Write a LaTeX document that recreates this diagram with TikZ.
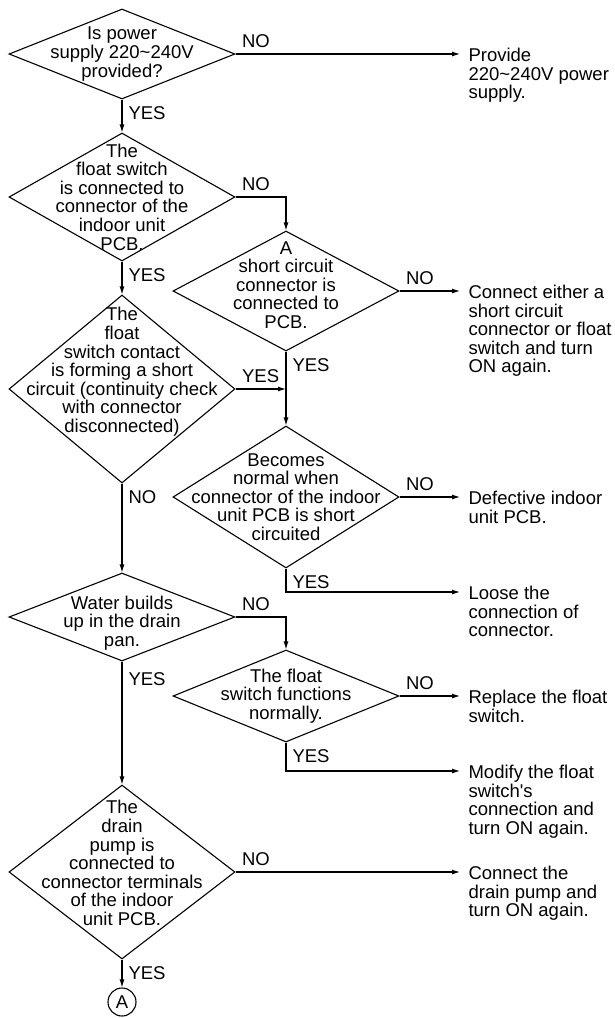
\documentclass[tikz,border=0pt]{standalone}
\usepackage{fontspec}
\setmainfont{Liberation Sans}
\usetikzlibrary{shapes.geometric,arrows.meta}

\begin{document}
\begin{tikzpicture}[x=1pt,y=-1pt,
   line width=1.1pt,
   font=\fontsize{18.5}{18.6}\selectfont,
   question/.style={draw,diamond,inner sep=0pt,minimum width=226pt},
   qtext/.style={align=center,inner sep=0pt},
   result/.style={align=left,anchor=north west,inner xsep=8pt,inner ysep=0pt,yshift=6.5pt},
   answer/.style={inner xsep=6pt,inner ysep=6pt,pos=0},
   flow/.style={-{Latex[length=8pt,width=5pt]}}]
\useasboundingbox (0,0) rectangle (615,1018);

\node[question,minimum height=90pt] (q1) at (122,54) {};
\node[qtext] (q1t) at (q1) {Is power\\supply 220\textasciitilde240V\\provided?};
\node[question,minimum height=128pt] (q2) at (122,197) {};
\node[qtext] (q2t) at (q2) {The\\float switch\\is connected to\\connector of the\\indoor unit\\PCB.};
\node[question,minimum height=120pt] (q3) at (286,291) {};
\node[qtext] (q3t) at ([yshift=6pt]q3) {A\\short circuit\\connector is\\connected to\\PCB.};
\node[question,minimum height=188pt] (q4) at (122,389) {};
\node[qtext] (q4t) at ([yshift=17pt]q4) {The\\float\\switch contact\\is forming a short\\circuit (continuity check\\with connector\\disconnected)};
\node[question,minimum height=142pt] (q5) at (286,497) {};
\node[qtext] (q5t) at (q5) {Becomes\\normal when\\connector of the indoor\\unit PCB is short\\circuited};
\node[question,minimum height=88pt] (q6) at (122,617) {};
\node[qtext] (q6t) at ([yshift=-6pt]q6) {Water builds\\up in the drain\\pan.};
\node[question,minimum height=92pt] (q7) at (286,696) {};
\node[qtext] (q7t) at (q7) {The float\\switch functions\\normally.};
\node[question,minimum height=174pt] (q8) at (122,872) {};
\node[qtext] (q8t) at ([yshift=9pt]q8) {The\\drain\\pump is\\connected to\\connector terminals\\of the indoor\\unit PCB.};
\node[draw,circle,minimum size=28pt,inner sep=0pt] (ca) at (122,1002) {A};

\coordinate (e1) at (460,54);
\coordinate (e2) at (460,291);
\coordinate (e3) at (460,497);
\coordinate (e4) at (460,592);
\coordinate (e5) at (460,696);
\coordinate (e6) at (460,771);
\coordinate (e7) at (460,872);
\node[result] (r1) at (e1) {Provide\\220\textasciitilde240V power\\supply.};
\node[result] (r2) at (e2) {Connect either a\\short circuit\\connector or float\\switch and turn\\ON again.};
\node[result] (r3) at (e3) {Defective indoor\\unit PCB.};
\node[result] (r4) at (e4) {Loose the\\connection of\\connector.};
\node[result] (r5) at (e5) {Replace the float\\switch.};
\node[result] (r6) at (e6) {Modify the float\\switch\textquotesingle s\\connection and\\turn ON again.};
\node[result] (r7) at (e7) {Connect the\\drain pump and\\turn ON again.};

\draw[flow] (q1.east) -- node[answer,anchor=south west] {NO} (e1);
\draw[flow] (q1.south) -- node[answer,anchor=north west] {YES} (q2.north);
\draw[flow] (q2.east) -| node[answer,anchor=south west] {NO} (q3.north);
\draw[flow] (q2.south) -- node[answer,anchor=north west] {YES} (q4.north);
\draw[flow] (q3.east) -- node[answer,anchor=south west] {NO} (e2);
\draw[flow] (q3.south) -- node[answer,anchor=north west] {YES} (q5.north);
\draw[flow] (q4.east) -- node[answer,anchor=south west] {YES} (q4.east -| q3.south);
\draw[flow] (q4.south) -- node[answer,anchor=north west] {NO} (q6.north);
\draw[flow] (q5.east) -- node[answer,anchor=south west] {NO} (e3);
\draw[flow] (q5.south) |- node[answer,anchor=north west] {YES} (e4);
\draw[flow] (q6.east) -| node[answer,anchor=south west] {NO} (q7.north);
\draw[flow] (q6.south) -- node[answer,anchor=north west,inner ysep=10pt] {YES} (q8.north);
\draw[flow] (q7.east) -- node[answer,anchor=south west] {NO} (e5);
\draw[flow] (q7.south) |- node[answer,anchor=north west] {YES} (e6);
\draw[flow] (q8.east) -- node[answer,anchor=south west] {NO} (e7);
\draw[flow] (q8.south) -- node[answer,anchor=north west] {YES} (ca.north);
\end{tikzpicture}
\end{document}
